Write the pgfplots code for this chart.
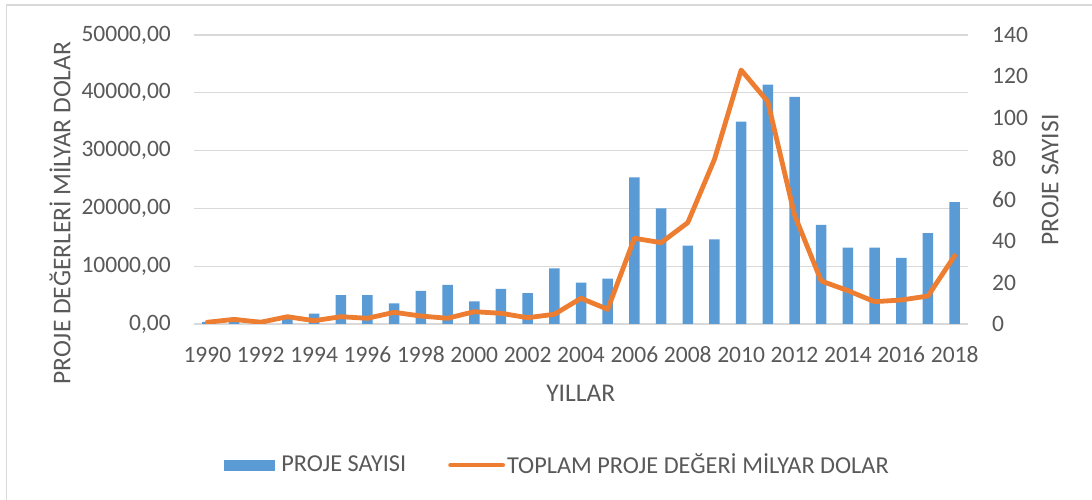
\documentclass[border=0pt]{standalone}
\usepackage{fontspec}
\setmainfont{Carlito}
\usepackage{pgfplots}
\pgfplotsset{compat=1.18}
\definecolor{barblue}{HTML}{5B9BD5}
\definecolor{lineorange}{HTML}{ED7D31}
\definecolor{txtgray}{HTML}{595959}
\definecolor{gridgray}{HTML}{D9D9D9}
\newcommand{\cf}{\fontsize{23.5bp}{28bp}\selectfont}
\newcommand{\lf}{\fontsize{24.3bp}{29bp}\selectfont}
\newcommand{\tf}{\fontsize{25.5bp}{30bp}\selectfont}

\pgfplotstableread{
year count
1990 1
1991 1
1992 2
1993 3
1994 5
1995 14
1996 14
1997 10
1998 16
1999 19
2000 11
2001 17
2002 15
2003 27
2004 20
2005 22
2006 71
2007 56
2008 38
2009 41
2010 98
2011 116
2012 110
2013 48
2014 37
2015 37
2016 32
2017 44
2018 59
}\counts

\pgfplotstableread{
year value
1990 300
1991 800
1992 300
1993 1260
1994 570
1995 1260
1996 990
1997 2020
1998 1380
1999 990
2000 2130
2001 1850
2002 1090
2003 1680
2004 4450
2005 2540
2006 14830
2007 14070
2008 17530
2009 28490
2010 43940
2011 38460
2012 18860
2013 7440
2014 5770
2015 3860
2016 4150
2017 4840
2018 11820
}\values

\pgfplotsset{
  base/.style={
    width=774bp, height=289bp, scale only axis,
    at={(194bp,176bp)}, anchor=south west,
    xmin=1989.5, xmax=2018.5,
    axis line style={draw=none},
    tick style={draw=none},
    ticklabel style={text=txtgray, font=\cf},
    label style={text=txtgray, font=\tf},
    /pgf/number format/assume math mode=true,
  }
}

\begin{document}
\cf
\begin{tikzpicture}[x=1bp,y=1bp]
\useasboundingbox (0,0) rectangle (1092,500);
\fill[white] (0,0) rectangle (1092,500);
\draw[gridgray, line width=1.3bp] (6.5,0) -- (6.5,495) -- (1092,495);

% Axis A: left scale, grid, labels
\begin{axis}[base,
  ymin=0, ymax=50000,
  ytick={0,10000,20000,30000,40000,50000},
  scaled y ticks=false,
  ymajorgrids, grid style={gridgray, line width=1.3bp},
  yticklabel style={/pgf/number format/.cd, fixed, fixed zerofill, precision=2, use comma, 1000 sep={}, /tikz/.cd, anchor=east, inner sep=0pt, xshift=-23bp},
  xtick={1990,1992,...,2018},
  xticklabel style={/pgf/number format/1000 sep={}, anchor=base, inner sep=0pt, yshift=-38.5bp},
  xlabel={YILLAR},
  xlabel style={at={(axis description cs:0.4997,-0.239)}, anchor=center},
  ylabel={PROJE DEĞERLERİ MİLYAR DOLAR},
  ylabel style={at={(axis description cs:-0.173,0.384)}, anchor=center},
]
\addplot[draw=none, forget plot] coordinates {(1990,0)};
\end{axis}

% Axis B: right scale, bars
\begin{axis}[base,
  ymin=0, ymax=140,
  ytick={0,20,...,140},
  yticklabel pos=right,
  yticklabel style={anchor=west, inner sep=0pt, xshift=24bp},
  xtick=\empty,
  ylabel={PROJE SAYISI},
  ylabel style={at={(axis description cs:1.106,0.498)}, anchor=center, rotate=0},
]
\addplot[ybar, bar width=10.5bp, fill=barblue, draw=none] table[x=year, y=count] {\counts};
\end{axis}

% Axis C: left scale, line + legend
\begin{axis}[base,
  ymin=0, ymax=50000,
  hide axis,
  legend columns=2,
  legend style={at={(axis description cs:0.4697,-0.488)}, anchor=center, draw=none, fill=none,
    font=\lf, text=txtgray,
    /tikz/every even column/.append style={column sep=40bp}},
  legend cell align=left,
]
\addlegendimage{legend image code/.code={\fill[barblue, draw=none] (0bp,-5.5bp) rectangle (51bp,5.5bp); \path[draw=none, fill=none] (0bp,0) -- (55bp,0);}}
\addlegendentry{PROJE SAYISI}
\addplot[lineorange, line width=4.8bp, line join=round, line cap=round,
  legend image code/.code={\draw[lineorange, line width=4.8bp, line cap=round] (2bp,0) -- (54bp,0);}]
  table[x=year, y=value] {\values};
\addlegendentry{TOPLAM PROJE DEĞERİ MİLYAR DOLAR}
\end{axis}
\end{tikzpicture}
\end{document}
